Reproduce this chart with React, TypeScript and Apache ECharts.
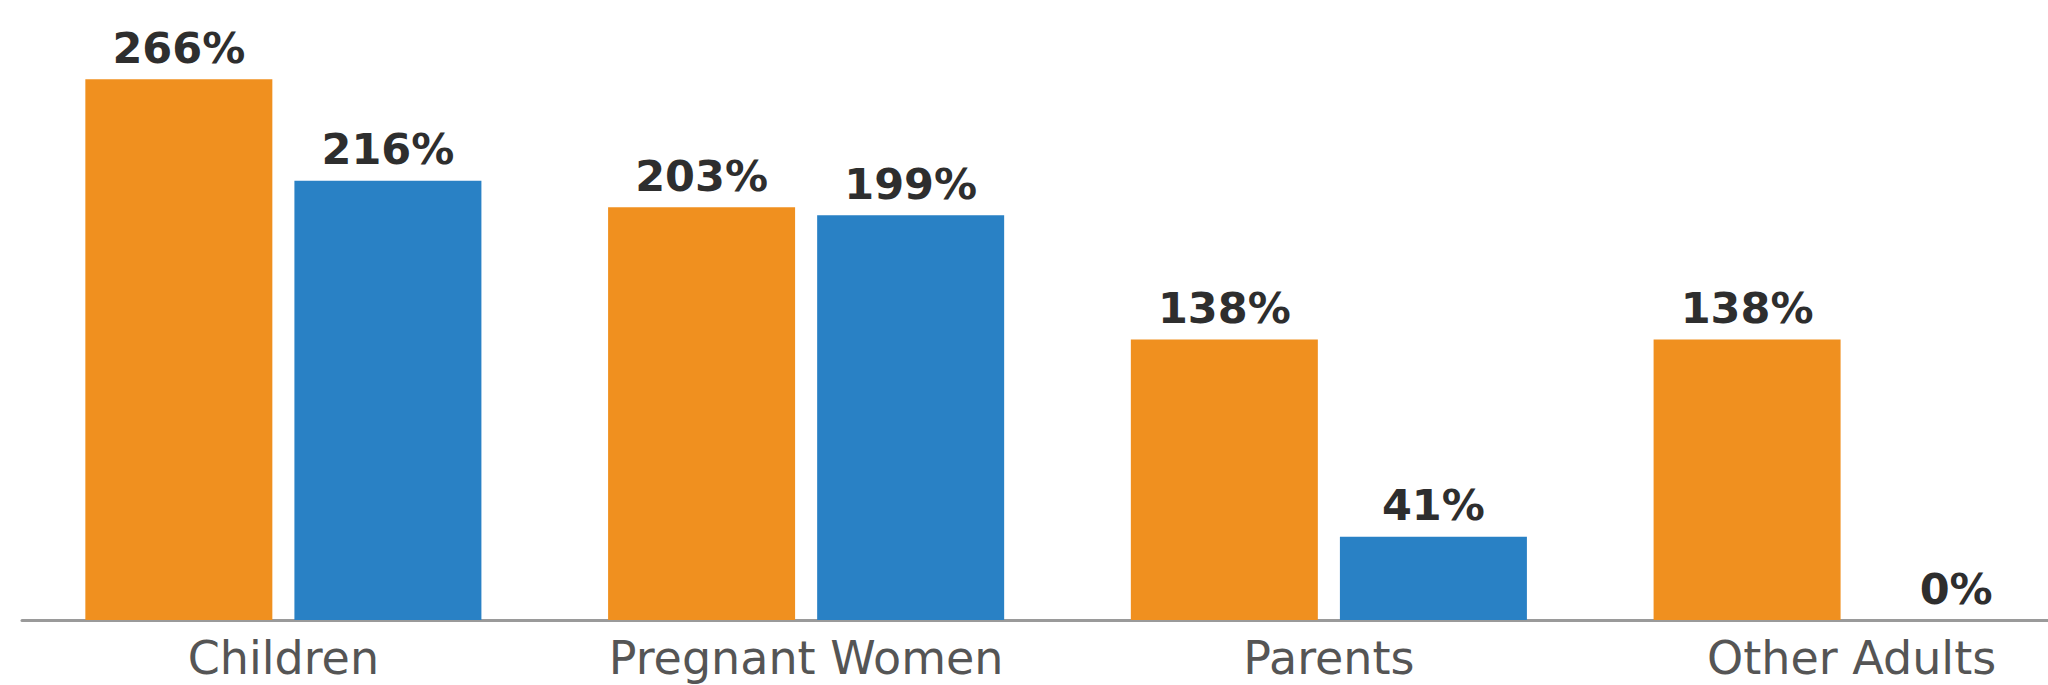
import React, { useEffect, useRef } from "react";
import * as echarts from "echarts";

const categories = ["Children", "Pregnant Women", "Parents", "Other Adults"];
const orangeValues = [266, 203, 138, 138];
const blueValues = [216, 199, 41, 0];

export default function App() {
  const ref = useRef<HTMLDivElement>(null);
  useEffect(() => {
    if (!ref.current) return;
    const chart = echarts.init(ref.current, null, { renderer: "svg" });
    const label = {
      show: true,
      position: "top" as const,
      distance: 10,
      formatter: "{c}%",
      fontFamily: "DejaVu Sans",
      fontWeight: "bold" as const,
      fontSize: 43,
      color: "#2e2e2e",
    };
    chart.setOption({
      animation: false,
      backgroundColor: "#ffffff",
      grid: {
        left: 22,
        width: 2091,
        top: 10,
        bottom: 65,
        containLabel: false,
        outerBoundsMode: "none",
      },
      xAxis: {
        type: "category",
        data: categories,
        axisLine: { show: true, lineStyle: { color: "#9a9a9a", width: 3 } },
        axisTick: { show: false },
        axisLabel: {
          fontFamily: "DejaVu Sans",
          fontSize: 46,
          lineHeight: 46,
          color: "#555555",
          margin: 15,
          interval: 0,
        },
      },
      yAxis: {
        type: "value",
        min: 0,
        max: 300,
        show: false,
        splitLine: { show: false },
      },
      series: [
        {
          type: "bar",
          data: orangeValues,
          barWidth: 187,
          barGap: "11.8%",
          itemStyle: { color: "#F0901F" },
          label,
        },
        {
          type: "bar",
          data: blueValues,
          barWidth: 187,
          barGap: "11.8%",
          itemStyle: { color: "#2981C5" },
          label,
        },
      ],
    });
    return () => chart.dispose();
  }, []);
  return (
    <div
      ref={ref}
      style={{ position: "absolute", left: 0, top: 0, width: 2048, height: 685 }}
    />
  );
}
